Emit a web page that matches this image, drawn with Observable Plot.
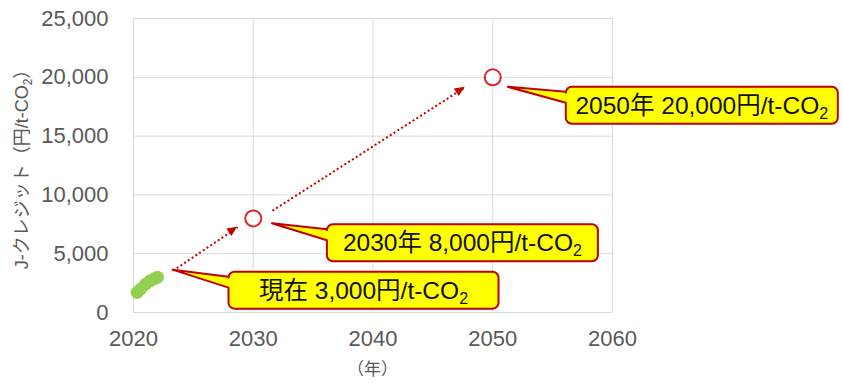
<!DOCTYPE html>
<html><head><meta charset="utf-8">
<script src="https://cdn.jsdelivr.net/npm/d3@7"></script>
<script src="https://cdn.jsdelivr.net/npm/@observablehq/plot@0.6"></script>
<style>body{margin:0;background:#fff} svg{display:block}</style>
</head><body><div id="chart"></div>
<script>
// Observed J-credit prices (green dots)
const actualYears  = [2020.3, 2020.6, 2021.0, 2021.4, 2021.8, 2022.0];
const actualPrices = [1700, 2000, 2400, 2700, 2900, 3000];
// Target prices (open circles)
const targetYears  = [2030, 2050];
const targetPrices = [8000, 20000];
// Dotted arrows (from -> to)
const arrowFromYears  = [2023.3, 2031.6];
const arrowFromPrices = [3550, 8650];
const arrowToYears    = [2028.7, 2047.7];
const arrowToPrices   = [7250, 19150];
// Callouts: pointer tip (data units) and text
const calloutYears  = [2023.3, 2031.6, 2051.3];
const calloutPrices = [3600, 7550, 19150];
const calloutText   = ["現在 3,000円/t-CO", "2030年 8,000円/t-CO", "2050年 20,000円/t-CO"];
const calloutSub    = ["2", "2", "2"];
// Axis ticks
const xTicks = [2020, 2030, 2040, 2050, 2060];
const yTicks = [0, 5000, 10000, 15000, 20000, 25000];
const yTitle = "J-クレジット（円/t-CO";
const yTitleSub = "2";
const yTitleEnd = "）";
const xTitle = "（年）";

const actual  = actualYears.map((x, i) => ({x, y: actualPrices[i]}));
const targets = targetYears.map((x, i) => ({x, y: targetPrices[i]}));
const arrows  = arrowFromYears.map((x1, i) => ({x1, y1: arrowFromPrices[i], x2: arrowToYears[i], y2: arrowToPrices[i]}));

const FONT = "'Liberation Sans', Arial, 'Noto Sans CJK JP', sans-serif";
const RED = "#c00000";

const plot = Plot.plot({
  width: 843, height: 383,
  marginLeft: 133, marginRight: 231, marginTop: 18, marginBottom: 71,
  style: {fontFamily: FONT, background: "#fff", overflow: "visible"},
  x: {domain: [2020, 2060]},
  y: {domain: [0, 25000]},
  marks: [
    Plot.gridX(xTicks, {stroke: "#d9d9d9", strokeOpacity: 1}),
    Plot.gridY(yTicks, {stroke: "#d9d9d9", strokeOpacity: 1}),
    Plot.axisX(xTicks, {tickSize: 0, tickPadding: 18, fontSize: 22, color: "#595959", tickFormat: d => String(d), label: null}),
    Plot.axisY(yTicks, {tickSize: 0, tickPadding: 25, fontSize: 22, color: "#595959", tickFormat: d3.format(","), label: null}),
    Plot.dot(actual, {x: "x", y: "y", r: 6.5, fill: "#92d050"}),
    Plot.link(arrows, {x1: "x1", y1: "y1", x2: "x2", y2: "y2", stroke: RED, strokeWidth: 2, strokeDasharray: "2,2.5"}),
    Plot.dot(targets, {x: "x", y: "y", r: 8, stroke: "#e0262b", strokeWidth: 2, fill: "white"})
  ]
});
document.getElementById("chart").appendChild(plot);

const sx = plot.scale("x").apply, sy = plot.scale("y").apply;
const svg = d3.select(plot);

// arrow heads
arrows.forEach(a => {
  const x1 = sx(a.x1), y1 = sy(a.y1), x2 = sx(a.x2), y2 = sy(a.y2);
  const ang = Math.atan2(y2 - y1, x2 - x1);
  const L = 10, W = 4.5;
  const bx = x2 - L * Math.cos(ang), by = y2 - L * Math.sin(ang);
  const px = -Math.sin(ang) * W, py = Math.cos(ang) * W;
  svg.append("path")
    .attr("d", `M${x2},${y2}L${bx + px},${by + py}L${bx - px},${by - py}Z`)
    .attr("fill", RED);
});

// callouts
const boxLayout = [
  {dx: 56, dy: 2, w: 270, h: 37},
  {dx: 55, dy: 1, w: 271, h: 37},
  {dx: 58, dy: 0, w: 272, h: 37}
];
calloutYears.forEach((yr, i) => {
  const tx = sx(yr), ty = sy(calloutPrices[i]);
  const b = boxLayout[i];
  const l = tx + b.dx, t = ty + b.dy, r = l + b.w, bt = t + b.h, rr = 6;
  const t1 = 5, t2 = 16;
  const d = `M${l + rr},${t}H${r - rr}A${rr},${rr} 0 0 1 ${r},${t + rr}V${bt - rr}A${rr},${rr} 0 0 1 ${r - rr},${bt}` +
    `H${l + rr}A${rr},${rr} 0 0 1 ${l},${bt - rr}V${t + t2}L${tx},${ty}L${l},${t + t1}V${t + rr}A${rr},${rr} 0 0 1 ${l + rr},${t}Z`;
  svg.append("path").attr("d", d).attr("fill", "#ffff00").attr("stroke", RED).attr("stroke-width", 2).attr("stroke-linejoin", "round");
  const txt = svg.append("text")
    .attr("x", l + b.w / 2).attr("y", t + 27)
    .attr("text-anchor", "middle").attr("font-size", 24.5).attr("fill", "#111")
    .attr("font-family", FONT);
  txt.append("tspan").text(calloutText[i]);
  txt.append("tspan").attr("font-size", 16).attr("dy", 5).text(calloutSub[i]);
});

// y title
const yt = svg.append("text")
  .attr("transform", "translate(22,165) rotate(-90)")
  .attr("text-anchor", "middle").attr("dy", "0.35em")
  .attr("font-size", 18).attr("fill", "#595959").attr("font-family", FONT);
yt.append("tspan").text(yTitle);
yt.append("tspan").attr("font-size", 12).attr("dy", 4).text(yTitleSub);
yt.append("tspan").attr("dy", -4).text(yTitleEnd);

// x title
svg.append("text").attr("x", sx(2040)).attr("y", 375)
  .attr("text-anchor", "middle").attr("font-size", 17).attr("fill", "#595959")
  .attr("font-family", FONT).text(xTitle);
</script>
</body></html>
